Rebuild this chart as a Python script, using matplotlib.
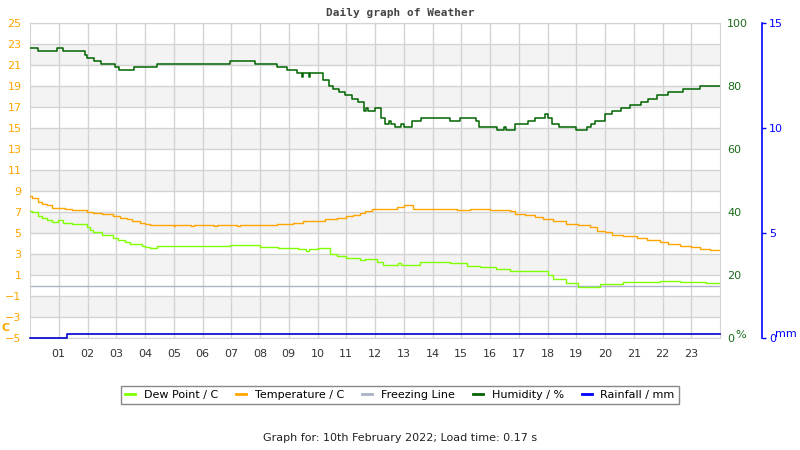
import matplotlib
matplotlib.use("Agg")
import matplotlib.pyplot as plt
from matplotlib.lines import Line2D

# hours (step starts) and readings
hum_t = [0, 0.29, 0.95, 1.16, 1.91, 1.99, 2.24, 2.47, 2.95, 3.1, 3.6, 4.4, 6.95, 7.82,
         8.6, 8.94, 9.29, 9.45, 9.5, 9.7, 9.75, 10.2, 10.4, 10.55, 10.76, 10.96, 11.2,
         11.4, 11.6, 11.7, 11.77, 12.0, 12.2, 12.36, 12.5, 12.55, 12.7, 12.9, 13.0, 13.3,
         13.6, 14.6, 14.95, 15.5, 15.6, 16.24, 16.5, 16.55, 16.87, 17.32, 17.55, 17.9,
         18.0, 18.17, 18.4, 19.0, 19.36, 19.53, 19.65, 20.0, 20.23, 20.57, 20.86, 21.26,
         21.5, 21.8, 22.2, 22.7, 23.3, 24]
hum_v = [92, 91, 92, 91, 90, 89, 88, 87, 86, 85, 86, 87, 88, 87,
         86, 85, 84, 83, 84, 83, 84, 82, 80, 79, 78, 77, 76,
         75, 72, 73, 72, 73, 70, 68, 69, 68, 67, 68, 67, 69,
         70, 69, 70, 69, 67, 66, 67, 66, 68, 69, 70, 71,
         70, 68, 67, 66, 67, 68, 69, 71, 72, 73, 74, 75,
         76, 77, 78, 79, 80, 80]

temp_t = [0, 0.06, 0.29, 0.4, 0.58, 0.75, 1.22, 1.45, 1.97, 2.2, 2.5, 2.9, 3.13, 3.36,
          3.54, 3.83, 4.0, 4.17, 5.0, 5.05, 5.6, 5.7, 6.4, 6.5, 7.2, 7.3, 8.58, 9.16,
          9.51, 10.03, 10.26, 10.67, 11.0, 11.25, 11.48, 11.65, 11.88, 12.29, 12.75,
          13.01, 13.33, 13.68, 14.84, 15.3, 16.0, 16.7, 16.87, 17.22, 17.56, 17.85,
          18.2, 18.66, 19.07, 19.48, 19.71, 20.0, 20.23, 20.64, 21.1, 21.45, 21.91,
          22.2, 22.6, 23.0, 23.3, 23.65, 24]
temp_v = [8.5, 8.35, 8.0, 7.75, 7.65, 7.4, 7.3, 7.15, 7.0, 6.9, 6.8, 6.65, 6.45, 6.3,
          6.15, 6.0, 5.85, 5.75, 5.65, 5.75, 5.65, 5.75, 5.65, 5.75, 5.65, 5.75, 5.85, 5.95,
          6.1, 6.15, 6.3, 6.45, 6.6, 6.75, 6.95, 7.1, 7.25, 7.3, 7.45,
          7.65, 7.3, 7.25, 7.15, 7.25, 7.15, 7.05, 6.85, 6.7, 6.5, 6.35,
          6.15, 5.9, 5.75, 5.55, 5.2, 5.05, 4.85, 4.7, 4.5, 4.35, 4.15,
          4.0, 3.8, 3.65, 3.5, 3.4, 3.4]

dew_t = [0, 0.06, 0.29, 0.41, 0.58, 0.75, 0.99, 1.16, 1.45, 1.97, 2.09, 2.2, 2.49, 2.9,
         3.07, 3.3, 3.48, 3.88, 4.0, 4.17, 4.4, 6.96, 8.0, 8.64, 9.33, 9.6, 9.7, 10.0,
         10.43, 10.67, 11.0, 11.48, 11.65, 12.06, 12.29, 12.8, 12.9, 13.55, 14.6, 15.2,
         15.65, 16.2, 16.7, 18.03, 18.2, 18.66, 19.07, 19.82, 20.64, 21.91, 22.6, 23.5, 24]
dew_v = [7.1, 7.0, 6.6, 6.4, 6.25, 6.05, 6.2, 6.0, 5.85, 5.6, 5.3, 5.05, 4.8, 4.55,
         4.35, 4.15, 4.0, 3.8, 3.7, 3.55, 3.75, 3.9, 3.7, 3.55, 3.5, 3.25, 3.45, 3.55,
         3.0, 2.85, 2.65, 2.45, 2.55, 2.25, 1.95, 2.1, 1.95, 2.25, 2.1, 1.9,
         1.75, 1.55, 1.4, 1.0, 0.6, 0.25, -0.1, 0.15, 0.35, 0.45, 0.35, 0.2, 0.2]

rain_t = [0, 1.29, 24]
rain_v = [0, 0.2, 0.2]

hours = list(range(1, 24))
hour_labels = ["%02d" % h for h in hours]
temp_ticks = list(range(-5, 26, 2))
hum_ticks = [0, 20, 40, 60, 80, 100]
rain_ticks = [0, 5, 10, 15]

C_DEW = "#7fff00"
C_TEMP = "#ffa500"
C_FREEZE = "#a9b4c6"
C_HUM = "#006400"
C_RAIN = "#0000ff"

fig = plt.figure(figsize=(8, 4.5), dpi=100)
ax = fig.add_axes([30 / 800, 1 - 338 / 450, 690 / 800, 315 / 450])

# grey bands and grid
for lo in range(-3, 25, 4):
    ax.axhspan(lo, lo + 2, color="#f3f3f3", zorder=0, lw=0)
ax.set_xlim(0, 24)
ax.set_ylim(-5, 25)
ax.set_yticks(temp_ticks)
ax.set_xticks(hours)
ax.set_xticklabels(hour_labels)
ax.grid(True, color="#d3d3d3", lw=1, zorder=1)
ax.set_axisbelow(True)
ax.tick_params(axis="y", colors="#ffa500", labelsize=8, length=0, pad=6)
ax.tick_params(axis="x", colors="#333333", labelsize=8, length=0, pad=8)
for s in ax.spines.values():
    s.set_color("#d3d3d3")

ax.plot(dew_t, dew_v, color=C_DEW, lw=1.0, drawstyle="steps-post", zorder=3)
ax.plot(temp_t, temp_v, color=C_TEMP, lw=1.0, drawstyle="steps-post", zorder=3)
ax.axhline(0, color=C_FREEZE, lw=1, zorder=2)

ax2 = ax.twinx()
ax2.set_ylim(0, 100)
ax2.set_yticks(hum_ticks)
ax2.tick_params(axis="y", colors="#1a6b1a", labelsize=8, length=0, pad=5)
ax2.plot(hum_t, hum_v, color=C_HUM, lw=1.1, drawstyle="steps-post")
for s in ax2.spines.values():
    s.set_visible(False)

ax3 = ax.twinx()
ax3.set_ylim(0, 15)
ax3.set_yticks(rain_ticks)
ax3.spines["right"].set_position(("axes", (762 - 30) / 690))
ax3.spines["right"].set_color(C_RAIN)
ax3.spines["right"].set_linewidth(1.2)
for k in ["left", "top", "bottom"]:
    ax3.spines[k].set_visible(False)
ax3.tick_params(axis="y", colors=C_RAIN, labelsize=8, length=3, width=1, pad=2)
ax3.plot(rain_t, rain_v, color="#0000cc", lw=1.2, drawstyle="steps-post", clip_on=False)

# unit labels
fig.text(1 / 800, 1 - 328 / 450, "C", color=C_TEMP, fontsize=8, fontweight="bold",
         ha="left", va="center")
fig.text(735 / 800, 1 - 335 / 450, "%", color="#1a6b1a", fontsize=8, ha="left", va="center")
fig.text(775 / 800, 1 - 334 / 450, "mm", color=C_RAIN, fontsize=8, ha="left", va="center")

fig.text(0.5, 1 - 13 / 450, "Daily graph of Weather", family="DejaVu Sans Mono",
         fontweight="bold", fontsize=8, color="#444444", ha="center", va="center")

handles = [Line2D([], [], color=c, lw=2) for c in [C_DEW, C_TEMP, C_FREEZE, C_HUM, C_RAIN]]
labels = ["Dew Point / C", "Temperature / C", "Freezing Line", "Humidity / %", "Rainfall / mm"]
fig.legend(handles, labels, loc="center", bbox_to_anchor=(0.5, 1 - 395 / 450), ncol=5,
           fontsize=8, handlelength=0.9, columnspacing=1.6, fancybox=False,
           edgecolor="#888888", framealpha=1, borderpad=0.4)

fig.text(0.5, 1 - 438 / 450, "Graph for: 10th February 2022; Load time: 0.17 s",
         fontsize=8, color="#222222", ha="center", va="center")

fig.savefig("out.png", dpi=100)
plt.close(fig)
